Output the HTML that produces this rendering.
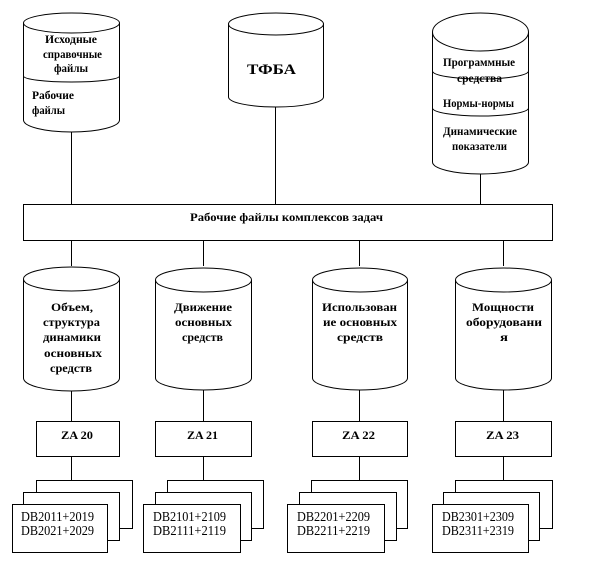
<!DOCTYPE html>
<html><head><meta charset="utf-8"><style>
html,body{margin:0;padding:0;background:#fff;}
svg{display:block;}
text{font-family:"Liberation Serif","DejaVu Serif",serif;fill:#000;}
.b{font-weight:bold;font-size:12px;}
.d{font-size:14px;}
</style></head><body>
<svg width="612" height="576" viewBox="0 0 612 576" xmlns="http://www.w3.org/2000/svg">
<g fill="none" stroke="#000" stroke-width="1">
<!-- top-left cylinder -->
<path d="M23.5,23 A48,10 0 0 1 119.5,23 A48,10 0 0 1 23.5,23 Z" fill="#fff"/>
<path d="M23.5,23 L23.5,120 A48,12 0 0 0 119.5,120 L119.5,23"/>
<path d="M23.5,76 A48,6 0 0 0 119.5,76"/>
<line x1="71.5" y1="132" x2="71.5" y2="204"/>
<!-- TFBA cylinder -->
<path d="M228.5,24 A47.5,11 0 0 1 323.5,24 A47.5,11 0 0 1 228.5,24 Z"/>
<path d="M228.5,24 L228.5,97 A47.5,10 0 0 0 323.5,97 L323.5,24"/>
<line x1="275.5" y1="107" x2="275.5" y2="204"/>
<!-- right cylinder -->
<path d="M432.5,32 A48,19 0 0 1 528.5,32 A48,19 0 0 1 432.5,32 Z"/>
<path d="M432.5,32 L432.5,162 A48,12 0 0 0 528.5,162 L528.5,32"/>
<path d="M432.5,71 A48,8 0 0 0 528.5,71"/>
<path d="M432.5,108 A48,8 0 0 0 528.5,108"/>
<line x1="480.5" y1="174" x2="480.5" y2="204"/>
<!-- wide rect -->
<rect x="23.5" y="204.5" width="529" height="36"/>
<line x1="71.5" y1="240" x2="71.5" y2="266"/>
<line x1="203.5" y1="240" x2="203.5" y2="266"/>
<line x1="359.5" y1="240" x2="359.5" y2="266"/>
<line x1="503.5" y1="240" x2="503.5" y2="266"/>
<!-- bottom cylinders -->
<path d="M23.5,279 A48,12 0 0 1 119.5,279 A48,12 0 0 1 23.5,279 Z"/>
<path d="M23.5,279 L23.5,378 A48,13 0 0 0 119.5,378 L119.5,279"/>
<path d="M155.5,280 A48,12 0 0 1 251.5,280 A48,12 0 0 1 155.5,280 Z"/>
<path d="M155.5,280 L155.5,378 A48,12 0 0 0 251.5,378 L251.5,280"/>
<path d="M312.5,280 A47.5,12 0 0 1 407.5,280 A47.5,12 0 0 1 312.5,280 Z"/>
<path d="M312.5,280 L312.5,378 A47.5,12 0 0 0 407.5,378 L407.5,280"/>
<path d="M455.5,280 A48,12 0 0 1 551.5,280 A48,12 0 0 1 455.5,280 Z"/>
<path d="M455.5,280 L455.5,378 A48,12 0 0 0 551.5,378 L551.5,280"/>
<line x1="71.5" y1="391" x2="71.5" y2="421"/>
<line x1="203.5" y1="390" x2="203.5" y2="421"/>
<line x1="359.5" y1="390" x2="359.5" y2="421"/>
<line x1="503.5" y1="390" x2="503.5" y2="421"/>
<!-- ZA boxes -->
<rect x="36.5" y="421.5" width="83" height="35"/>
<rect x="155.5" y="421.5" width="96" height="35"/>
<rect x="312.5" y="421.5" width="95" height="35"/>
<rect x="455.5" y="421.5" width="96" height="35"/>
<line x1="71.5" y1="456" x2="71.5" y2="480"/>
<line x1="203.5" y1="456" x2="203.5" y2="480"/>
<line x1="359.5" y1="456" x2="359.5" y2="480"/>
<line x1="503.5" y1="456" x2="503.5" y2="480"/>
<!-- stacks -->
<g fill="#fff">
<rect x="36.5" y="480.5" width="96" height="48"/>
<rect x="23.5" y="492.5" width="96" height="48"/>
<rect x="12.5" y="504.5" width="95" height="48"/>
<rect x="167.5" y="480.5" width="96" height="48"/>
<rect x="155.5" y="492.5" width="96" height="48"/>
<rect x="143.5" y="504.5" width="97" height="48"/>
<rect x="311.5" y="480.5" width="96" height="48"/>
<rect x="299.5" y="492.5" width="97" height="48"/>
<rect x="287.5" y="504.5" width="97" height="48"/>
<rect x="455.5" y="480.5" width="97" height="48"/>
<rect x="443.5" y="492.5" width="96" height="48"/>
<rect x="432.5" y="504.5" width="96" height="48"/>
</g>
</g>
<!-- texts -->
<text class="b" x="45" y="43" textLength="52" lengthAdjust="spacingAndGlyphs">Исходные</text>
<text class="b" x="43" y="58" textLength="59" lengthAdjust="spacingAndGlyphs">справочные</text>
<text class="b" x="54" y="72" textLength="34" lengthAdjust="spacingAndGlyphs">файлы</text>
<text class="b" x="32" y="99" textLength="42" lengthAdjust="spacingAndGlyphs">Рабочие</text>
<text class="b" x="32" y="114" textLength="33" lengthAdjust="spacingAndGlyphs">файлы</text>
<text class="b" style="font-size:15px" x="247" y="74" textLength="49" lengthAdjust="spacingAndGlyphs">ТФБА</text>
<text class="b" x="443" y="66" textLength="72" lengthAdjust="spacingAndGlyphs">Программные</text>
<text class="b" x="457" y="82" textLength="45" lengthAdjust="spacingAndGlyphs">средства</text>
<text class="b" x="443" y="107" textLength="71" lengthAdjust="spacingAndGlyphs">Нормы-нормы</text>
<text class="b" x="443" y="135" textLength="74" lengthAdjust="spacingAndGlyphs">Динамические</text>
<text class="b" x="452" y="150" textLength="55" lengthAdjust="spacingAndGlyphs">показатели</text>
<text class="b" x="190" y="221" textLength="193" lengthAdjust="spacingAndGlyphs">Рабочие файлы комплексов задач</text>
<text class="b" x="51" y="311" textLength="42" lengthAdjust="spacingAndGlyphs">Объем,</text>
<text class="b" x="43" y="326" textLength="57" lengthAdjust="spacingAndGlyphs">структура</text>
<text class="b" x="43" y="341" textLength="58" lengthAdjust="spacingAndGlyphs">динамики</text>
<text class="b" x="44" y="357" textLength="58" lengthAdjust="spacingAndGlyphs">основных</text>
<text class="b" x="50" y="372" textLength="42" lengthAdjust="spacingAndGlyphs">средств</text>
<text class="b" x="174" y="311" textLength="58" lengthAdjust="spacingAndGlyphs">Движение</text>
<text class="b" x="175" y="326" textLength="57" lengthAdjust="spacingAndGlyphs">основных</text>
<text class="b" x="182" y="341" textLength="41" lengthAdjust="spacingAndGlyphs">средств</text>
<text class="b" x="322" y="311" textLength="75" lengthAdjust="spacingAndGlyphs">Использован</text>
<text class="b" x="323" y="326" textLength="74" lengthAdjust="spacingAndGlyphs">ие основных</text>
<text class="b" x="337" y="341" textLength="46" lengthAdjust="spacingAndGlyphs">средств</text>
<text class="b" x="472" y="311" textLength="62" lengthAdjust="spacingAndGlyphs">Мощности</text>
<text class="b" x="466" y="326" textLength="76" lengthAdjust="spacingAndGlyphs">оборудовани</text>
<text class="b" x="500" y="341" textLength="8" lengthAdjust="spacingAndGlyphs">я</text>
<text class="b" x="61" y="439" textLength="32" lengthAdjust="spacingAndGlyphs">ZA 20</text>
<text class="b" x="187" y="439" textLength="31" lengthAdjust="spacingAndGlyphs">ZA 21</text>
<text class="b" x="342" y="439" textLength="33" lengthAdjust="spacingAndGlyphs">ZA 22</text>
<text class="b" x="486" y="439" textLength="33" lengthAdjust="spacingAndGlyphs">ZA 23</text>
<text class="d" x="21" y="521" textLength="73" lengthAdjust="spacingAndGlyphs">DB2011+2019</text>
<text class="d" x="21" y="535" textLength="73" lengthAdjust="spacingAndGlyphs">DB2021+2029</text>
<text class="d" x="153" y="521" textLength="73" lengthAdjust="spacingAndGlyphs">DB2101+2109</text>
<text class="d" x="153" y="535" textLength="73" lengthAdjust="spacingAndGlyphs">DB2111+2119</text>
<text class="d" x="297" y="521" textLength="73" lengthAdjust="spacingAndGlyphs">DB2201+2209</text>
<text class="d" x="297" y="535" textLength="73" lengthAdjust="spacingAndGlyphs">DB2211+2219</text>
<text class="d" x="442" y="521" textLength="72" lengthAdjust="spacingAndGlyphs">DB2301+2309</text>
<text class="d" x="442" y="535" textLength="72" lengthAdjust="spacingAndGlyphs">DB2311+2319</text>
</svg>
</body></html>
